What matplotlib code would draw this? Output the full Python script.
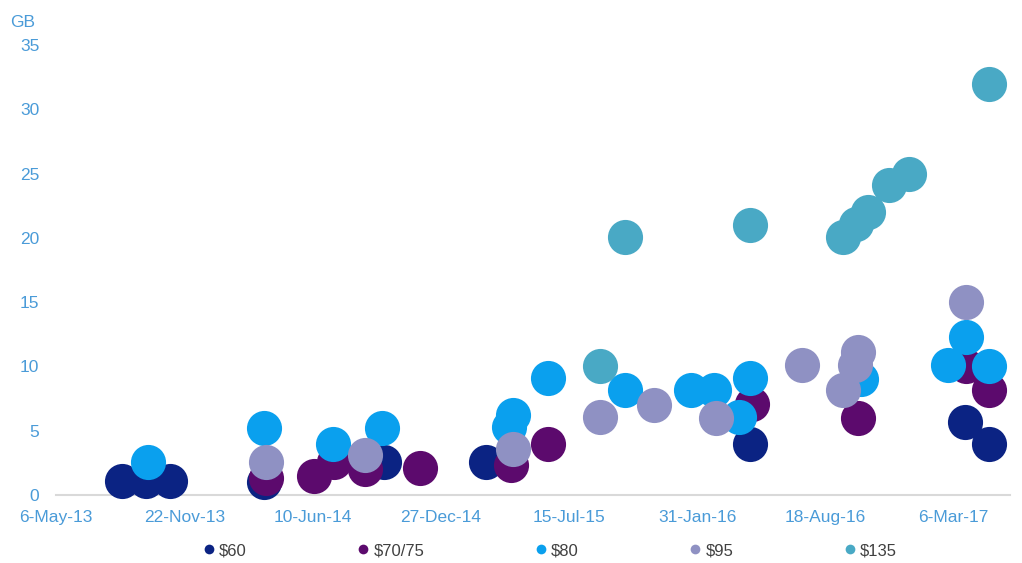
import matplotlib.pyplot as plt
import matplotlib.dates as mdates
from matplotlib.ticker import FuncFormatter
import pandas as pd

plt.rcParams['font.family'] = ['Liberation Sans', 'DejaVu Sans']

# data (date, GB)
s60_dates = ['2013-08-17', '2013-09-23', '2013-10-31', '2014-03-27', '2014-09-29',
             '2015-03-07', '2016-04-22', '2017-03-24', '2017-04-30']
s60_gb = [1.1, 1.1, 1.1, 1.0, 2.6, 2.6, 4.0, 5.7, 4.0]

s70_dates = ['2014-03-29', '2014-06-13', '2014-07-13', '2014-08-31', '2014-11-24',
             '2015-04-16', '2015-06-13', '2016-04-25', '2016-10-08', '2017-03-26',
             '2017-04-30']
s70_gb = [1.3, 1.5, 2.6, 2.0, 2.1, 2.3, 4.0, 7.1, 6.0, 10.0, 8.2]

s80_dates = ['2013-09-27', '2014-03-27', '2014-07-12', '2014-09-26', '2015-04-13',
             '2015-04-18', '2015-06-13', '2015-10-11', '2016-01-21', '2016-02-27',
             '2016-04-22', '2016-04-05', '2016-10-12', '2017-03-26', '2017-02-26',
             '2017-04-30']
s80_gb = [2.6, 5.2, 4.0, 5.2, 5.3, 6.2, 9.1, 8.2, 8.2, 8.2, 9.1, 6.1, 9.0, 12.3, 10.1, 10.0]

s95_dates = ['2014-03-29', '2014-08-31', '2015-04-18', '2015-09-02', '2015-11-25',
             '2016-03-01', '2016-07-13', '2016-10-08', '2016-10-03', '2016-09-15',
             '2017-03-26']
s95_gb = [2.6, 3.1, 3.6, 6.1, 7.0, 6.0, 10.1, 11.1, 10.1, 8.2, 15.0]

s135_dates = ['2015-09-02', '2015-10-11', '2016-04-22', '2016-09-15', '2016-10-05',
              '2016-10-24', '2016-11-25', '2016-12-26', '2017-04-30']
s135_gb = [10.0, 20.1, 21.0, 20.1, 21.1, 22.0, 24.1, 25.0, 32.0]

series = [
    ('$60', s60_dates, s60_gb, '#0b2383'),
    ('$70/75', s70_dates, s70_gb, '#5c0a6d'),
    ('$80', s80_dates, s80_gb, '#0aa0ee'),
    ('$95', s95_dates, s95_gb, '#8f91c3'),
    ('$135', s135_dates, s135_gb, '#49a9c5'),
]

fig = plt.figure(figsize=(10.22, 5.63), dpi=100)
ax = fig.add_axes([0.0548, 0.1208, 0.9335, 0.7993])

for name, d, v, c in series:
    ax.scatter(pd.to_datetime(d), v, s=640, color=c, linewidths=0,
               label=name, clip_on=False, zorder=3)

start = pd.Timestamp('2013-05-06')
ticks = [start + pd.Timedelta(days=200 * i) for i in range(8)]
ax.set_xticks(ticks)
ax.xaxis.set_major_formatter(FuncFormatter(
    lambda x, pos: f"{mdates.num2date(x).day}-{mdates.num2date(x):%b-%y}"))
ax.set_xlim(start, pd.Timestamp('2017-06-02'))
ax.set_ylim(0, 35)
ax.set_yticks(range(0, 36, 5))

for sp in ['top', 'right', 'left']:
    ax.spines[sp].set_visible(False)
ax.spines['bottom'].set_color('#d9d9d9')
ax.spines['bottom'].set_linewidth(1.5)
ax.tick_params(axis='both', length=0, labelcolor='#4a9bd8', labelsize=12.5)
ax.tick_params(axis='x', pad=11)
ax.tick_params(axis='y', pad=12)

fig.text(0.010, 0.960, 'GB', color='#4a9bd8', fontsize=12.5, va='center')

handles = [plt.Line2D([], [], marker='o', linestyle='', markersize=7,
                      color=c, markeredgewidth=0) for _, _, _, c in series]
fig.legend(handles, [s[0] for s in series], loc='center', ncol=5,
           bbox_to_anchor=(0.537, 0.022), frameon=False, fontsize=12,
           columnspacing=6.5, handletextpad=0.1, handlelength=1.0,
           labelcolor='#404040')

fig.savefig('out.png', dpi=100)
